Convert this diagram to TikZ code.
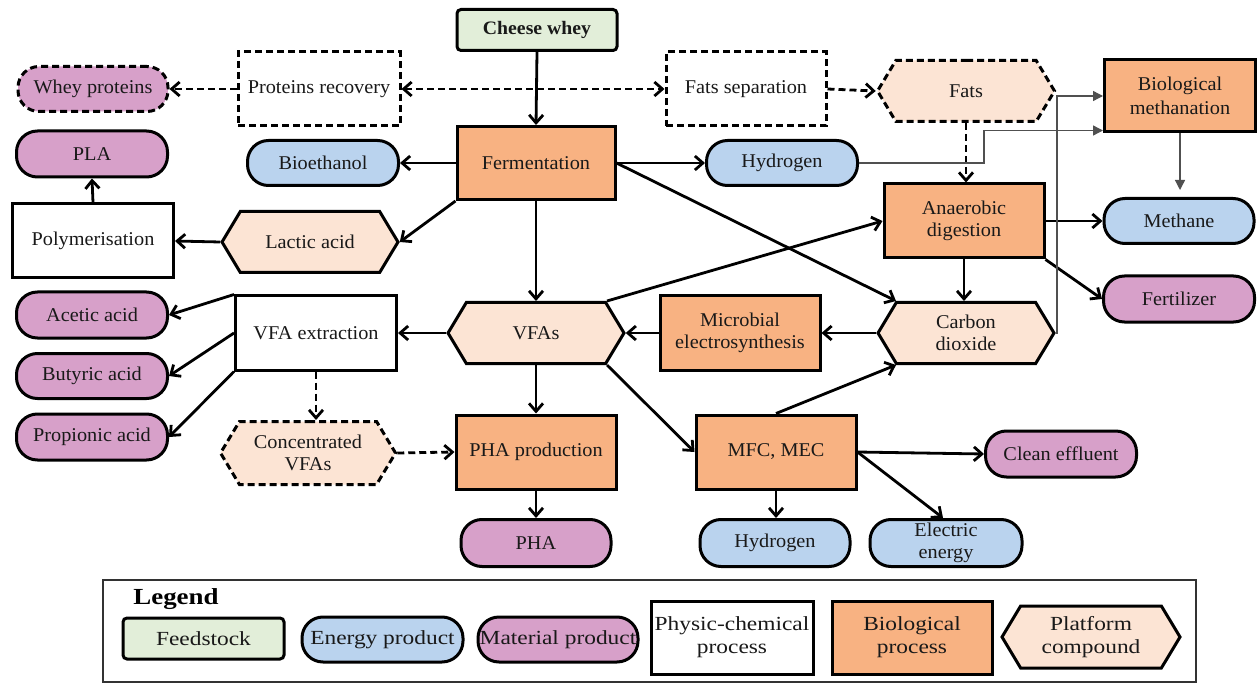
\documentclass[tikz,border=0pt]{standalone}
\usepackage{fontspec}
\setmainfont{Liberation Serif}[FakeStretch=1.04]
\newfontfamily\legfont{Liberation Serif}[FakeStretch=1.17]
\usetikzlibrary{shapes.symbols,shapes.misc,arrows.meta,calc}
\definecolor{bioorange}{RGB}{248,178,130}
\definecolor{peach}{RGB}{252,228,212}
\definecolor{energyblue}{RGB}{186,211,238}
\definecolor{matpurple}{RGB}{215,160,201}
\definecolor{feedgreen}{RGB}{226,238,217}
\definecolor{txt}{RGB}{25,25,25}
\definecolor{thinline}{RGB}{80,80,80}
\definecolor{legframe}{RGB}{50,50,50}
\tikzset{
  base/.style={draw=black, line width=3pt, text=txt, align=center, inner sep=0pt,
    font=\fontsize{19.5}{22}\selectfont},
  procbox/.style={base, rectangle, fill=white, minimum width=161pt, minimum height=74pt},
  biobox/.style={base, rectangle, fill=bioorange, minimum width=160pt, minimum height=74pt},
  feedbox/.style={base, rectangle, rounded corners=4pt, fill=feedgreen, minimum width=160pt, minimum height=41pt},
  energy/.style={base, rectangle, rounded corners=21pt, fill=energyblue, minimum width=151pt, minimum height=46pt},
  material/.style={base, rectangle, rounded corners=21pt, fill=matpurple, minimum width=151pt, minimum height=46pt},
  platform/.style={base, signal, signal to=east and west, signal pointer angle=118, fill=peach,
    minimum width=176pt, minimum height=61pt},
  dashedline/.style={dash pattern=on 7pt off 4pt},
  flow/.style={line width=2.8pt, -{Straight Barb[length=8pt,width=14pt]}},
  dflow/.style={flow, dashedline},
  thin/.style={draw=thinline, line width=1.3pt, -{Triangle[length=10pt,width=10pt]}},
  legtext/.style={font=\legfont\fontsize{20}{23}\selectfont}
}
\begin{document}
\begin{tikzpicture}[x=1pt,y=-1pt]
\useasboundingbox (0,0) rectangle (1257,684);
% ---------- nodes ----------
\node[feedbox, font=\bfseries\fontsize{19}{22}\selectfont] (cheese) at (537,30) {Cheese whey};
\node[material, dashedline, minimum width=150pt, minimum height=45pt] (wheyp) at (93,89) {Whey proteins};
\node[procbox, dashedline, minimum width=162pt] (protrec) at (319,89) {Proteins recovery};
\node[procbox, dashedline, minimum width=160pt] (fatsep) at (746,89) {Fats separation};
\node[platform, dashedline, minimum width=177pt] (fats) at (966,91) {Fats};
\node[biobox, minimum width=151pt, minimum height=72pt, font=\fontsize{19.5}{24}\selectfont] (biometh) at (1180,96) {Biological\\methanation};
\node[material] (pla) at (92,154) {PLA};
\node[energy, minimum height=45pt] (bioeth) at (323,163) {Bioethanol};
\node[biobox, minimum width=158pt, minimum height=73pt] (ferm) at (536,163) {Fermentation};
\node[energy, minimum height=45pt] (h2a) at (782,163) {Hydrogen};
\node[biobox] (ad) at (964,221) {Anaerobic\\digestion};
\node[energy, minimum width=150pt, minimum height=45pt] (methane) at (1179,221) {Methane};
\node[procbox] (poly) at (93,241) {Polymerisation};
\node[platform] (lactic) at (310,242) {Lactic acid};
\node[material, minimum width=151pt] (fert) at (1179,299) {Fertilizer};
\node[material] (acetic) at (92,315) {Acetic acid};
\node[procbox] (vfaext) at (316,333) {VFA extraction};
\node[platform] (vfas) at (536,333) {VFAs};
\node[biobox] (mes) at (740,333) {Microbial\\electrosynthesis};
\node[platform] (co2) at (966,333) {Carbon\\dioxide};
\node[material, minimum height=45pt] (butyric) at (92,376) {Butyric acid};
\node[material] (propionic) at (92,437) {Propionic acid};
\node[platform, dashedline, minimum width=175pt, minimum height=63pt] (convfa) at (308,453) {Concentrated\\VFAs};
\node[biobox] (phaprod) at (536,452) {PHA production};
\node[biobox] (mfc) at (776,452) {MFC, MEC};
\node[material] (clean) at (1061,454) {Clean effluent};
\node[material, minimum width=150pt, minimum height=47pt] (pha) at (536,543) {PHA};
\node[energy, minimum width=150pt, minimum height=47pt] (h2b) at (775,543) {Hydrogen};
\node[energy, minimum width=152pt, minimum height=47pt] (elec) at (946,543) {Electric\\energy};
% ---------- connectors ----------
\draw[flow] (cheese.south) -- (ferm.north);
\draw[dflow, {Straight Barb[length=8pt,width=14pt]}-{Straight Barb[length=8pt,width=14pt]}] (protrec.east) -- (fatsep.west);
\draw[dflow] (protrec.west) -- (wheyp.east);
\draw[dflow] (fatsep.east) -- (fats.west);
\draw[dflow] (fats.south) -- (fats.south |- ad.north);
\draw[flow] (ferm.west) -- (bioeth.east);
\draw[flow] (ferm.east) -- (h2a.west);
\draw[flow] (ferm.south west) -- (lactic.east);
\draw[flow] (lactic.west) -- (poly.east);
\draw[flow] (poly.north) -- (pla.south);
\draw[flow] (ferm.south) -- (vfas.north);
\draw[flow] (ferm.east) -- ([xshift=-70pt]co2.north);
\draw[flow] ([xshift=71pt]vfas.north) -- (ad.west);
\draw[flow] (ad.east) -- (methane.west);
\draw[flow] (ad.south east) -- (fert.west);
\draw[flow] (ad.south) -- (ad.south |- co2.north);
\draw[flow] (co2.west) -- (mes.east);
\draw[flow] (mes.west) -- (vfas.east);
\draw[flow] (vfas.west) -- (vfaext.east);
\draw[flow] (vfaext.north west) -- (acetic.east);
\draw[flow] (vfaext.west) -- (butyric.east);
\draw[flow] (vfaext.south west) -- (propionic.east);
\draw[dflow] (vfaext.south) -- (vfaext.south |- convfa.north);
\draw[dflow] (convfa.east) -- (phaprod.west);
\draw[flow] (vfas.south) -- (phaprod.north);
\draw[flow] (phaprod.south) -- (pha.north);
\draw[flow] ([xshift=71pt]vfas.south) -- (mfc.west);
\draw[flow] (mfc.north) -- ([xshift=-70pt]co2.south);
\draw[flow] (mfc.east) -- (clean.west);
\draw[flow] (mfc.east) -- ([xshift=-3pt]elec.north);
\draw[flow] (mfc.south) -- (mfc.south |- h2b.north);
% thin connectors to biological methanation
\draw[thin] (h2a.east) -- (984,163) |- ([yshift=3pt]biometh.south west);
\draw[thin] (co2.east) -- (1057,333) |- (biometh.west);
\draw[thin, shorten >=7pt] (biometh.south) -- (biometh.south |- methane.north);
% ---------- legend ----------
\draw[line width=2.4pt, draw=legframe] (103,580) rectangle (1196,682);
\node[font=\legfont\bfseries\fontsize{23}{25}\selectfont, text=black] (legtitle) at (176,599) {Legend};
\node[feedbox, legtext, minimum width=161pt, minimum height=41pt] (legF) at (203.5,638.5) {Feedstock};
\node[energy, legtext, minimum width=161pt, minimum height=45pt] (legE) at (382.5,639.5) {Energy product};
\node[material, legtext, minimum width=160pt, minimum height=45pt] (legM) at (558,639.5) {Material product};
\node[procbox, legtext, minimum width=162pt, minimum height=73pt] (legP) at (732,637.5) {Physic-chemical\\process};
\node[biobox, legtext, minimum width=160pt, minimum height=73pt] (legB) at (912,637.5) {Biological\\process};
\node[platform, legtext, minimum width=178pt, minimum height=62pt] (legH) at (1091,637) {Platform\\compound};
\end{tikzpicture}
\end{document}
